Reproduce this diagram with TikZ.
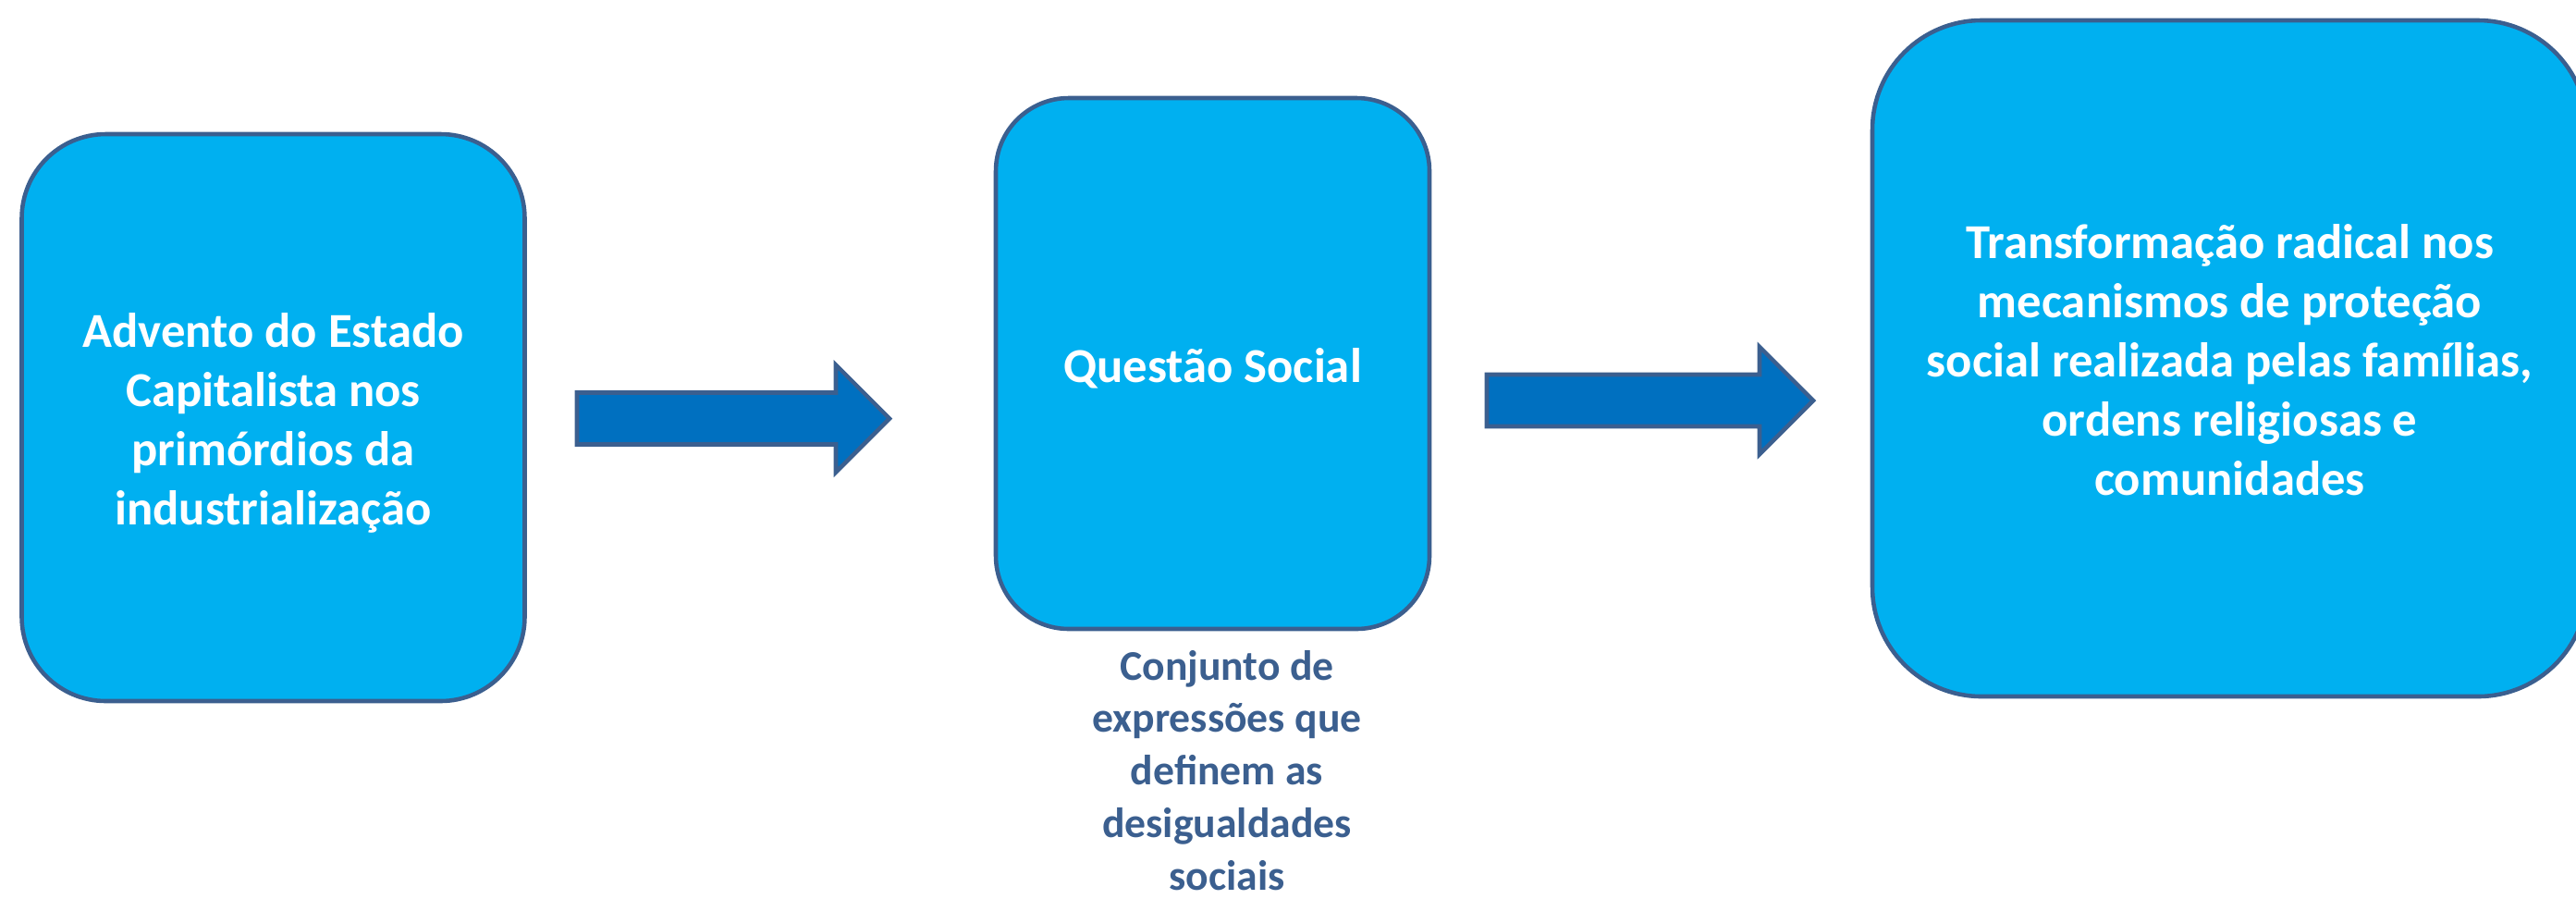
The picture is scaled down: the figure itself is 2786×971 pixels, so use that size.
\documentclass[tikz,border=0pt]{standalone}
\usepackage{fontspec}
\setmainfont{Carlito}
\usetikzlibrary{calc}

\definecolor{caixa}{HTML}{00B0F0}
\definecolor{contorno}{HTML}{3B5F8F}
\definecolor{setacor}{HTML}{0070C0}

\def\haste{28}   % half width of the shaft
\def\cabeca{58}  % half width of the head
\def\ponta{58}   % length of the head
\newcommand\sobe{\rule{0pt}{15.5pt}}        % first line: text sits a bit low
\newcommand\desce{\rule[-4pt]{0pt}{4pt}}    % last line

\begin{document}
\begin{tikzpicture}[x=0.1mm, y=-0.1mm,
    etapa/.style = {draw=contorno, fill=caixa, line width=1.3pt, text=white,
      align=center, font=\fontsize{15}{18.2}\selectfont\bfseries},
    nota/.style = {text=contorno, align=center,
      font=\fontsize{13}{16.2}\selectfont\bfseries},
    bloco/.style = {draw=contorno, fill=setacor, line width=1.3pt}]
  \useasboundingbox (0,0) rectangle (2786,971);

  % Caixas
  \node[etapa, minimum width=54.4mm, minimum height=61.3mm, rounded corners=9.1mm]
    (advento) at (295.5,451.5)
    {\sobe Advento do Estado\\Capitalista nos\\primórdios da\\industrialização\desce};
  \node[etapa, minimum width=46.9mm, minimum height=57.4mm, rounded corners=7.9mm]
    (questao) at (1311.5,393) {\sobe Questão Social\desce};
  \node[etapa, minimum width=77.3mm, minimum height=73.1mm, rounded corners=11.8mm]
    (transf) at (2411.5,387.5)
    {\sobe Transformação radical nos\\mecanismos de proteção\\social realizada pelas famílias,\\ordens religiosas e\\comunidades\desce};

  % Texto sob a questao social
  \node[nota] (conjunto) at (1327,833)
    {Conjunto de\\expressões que\\definem as\\desigualdades\\sociais};

  % Setas
  \coordinate (s1) at (624,452.5);
  \coordinate (e1) at (962,452.5);
  \coordinate (s2) at (1608,433);
  \coordinate (e2) at (1961,433);
  \foreach \ini/\fim in {s1/e1, s2/e2} {
    \draw[bloco] ($(\ini)+(0,-\haste)$) -- ($(\fim)+(-\ponta,-\haste)$)
      -- ($(\fim)+(-\ponta,-\cabeca)$) -- (\fim) -- ($(\fim)+(-\ponta,\cabeca)$)
      -- ($(\fim)+(-\ponta,\haste)$) -- ($(\ini)+(0,\haste)$) -- cycle;
  }
\end{tikzpicture}
\end{document}
